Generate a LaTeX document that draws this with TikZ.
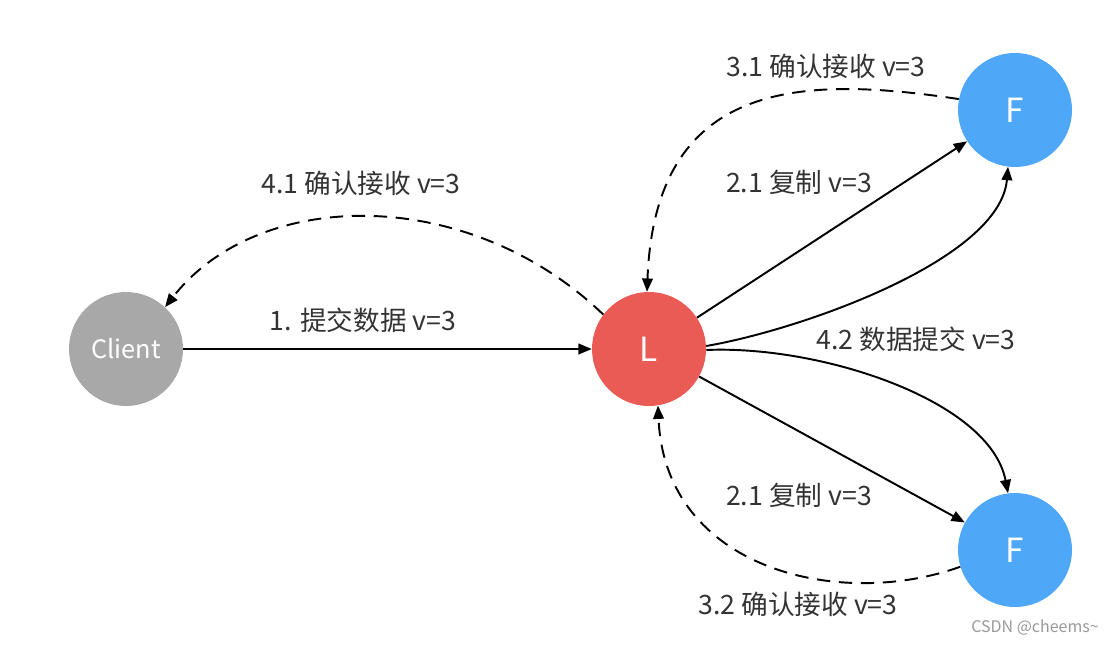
\documentclass[tikz,border=0pt]{standalone}
\usepackage{fontspec}
\setmainfont{Noto Sans CJK SC}
\usetikzlibrary{arrows.meta}

\definecolor{clientgray}{HTML}{A8A8A8}
\definecolor{leaderred}{HTML}{EB5B56}
\definecolor{followerblue}{HTML}{4FA8F7}
\definecolor{textgray}{HTML}{333333}

\begin{document}
\begin{tikzpicture}[x=0.75pt, y=-0.75pt,
    peer/.style={circle, minimum size=85.5pt, inner sep=0pt, text=white,
      font=\fontsize{25}{30}\selectfont},
    msg/.style={-{Triangle[length=10pt,width=8pt]}, line width=1.45pt},
    ack/.style={msg, dash pattern=on 10pt off 6.5pt},
    lbl/.style={text=textgray, font=\fontsize{20}{24}\selectfont, inner sep=0pt}]

    \useasboundingbox (0,0) rectangle (1112,645);

    % --- Nodes ---
    \node[peer, fill=clientgray, font=\fontsize{19}{23}\selectfont] (client) at (126,349) {Client};
    \node[peer, fill=leaderred] (leader) at (649,349) {L};
    \node[peer, fill=followerblue] (f1) at (1015,110) {F};
    \node[peer, fill=followerblue] (f2) at (1015,550) {F};

    % --- Labels ---
    \node[lbl] (l41) at (361,183) {4.1 确认接收 v=3};
    \node[lbl] (l1) at (363,320) {1. 提交数据 v=3};
    \node[lbl] (l31) at (826,66) {3.1 确认接收 v=3};
    \node[lbl] (l21a) at (799,182) {2.1 复制 v=3};
    \node[lbl] (l42) at (916,339) {4.2 数据提交 v=3};
    \node[lbl] (l21b) at (799,495) {2.1 复制 v=3};
    \node[lbl] (l32) at (798,604) {3.2 确认接收 v=3};
    \node[text=gray!80, font=\fontsize{12}{14}\selectfont, inner sep=0pt] (mark) at (1035,628) {CSDN @cheems\char`\~};

    % --- Requests ---
    \draw[msg] (client) -- (leader);
    \draw[msg] (leader) -- (f1);
    \draw[msg] (leader) -- (f2);

    % commit (4.2)
    \draw[msg] (leader.3) .. controls (800,330) and (1000,260) .. (f1.263);
    \draw[msg] (leader.-1) .. controls (820,345) and (990,400) .. (f2.97);

    % --- Acks ---
    \draw[ack] (leader.143) .. controls (470,186) and (260,186) .. (client.47);
    \draw[ack] (f1.169) .. controls (800,75) and (655,80) .. (leader.92);
    \draw[ack] (f2.197) .. controls (840,610) and (665,570) .. (leader.279);

\end{tikzpicture}
\end{document}
